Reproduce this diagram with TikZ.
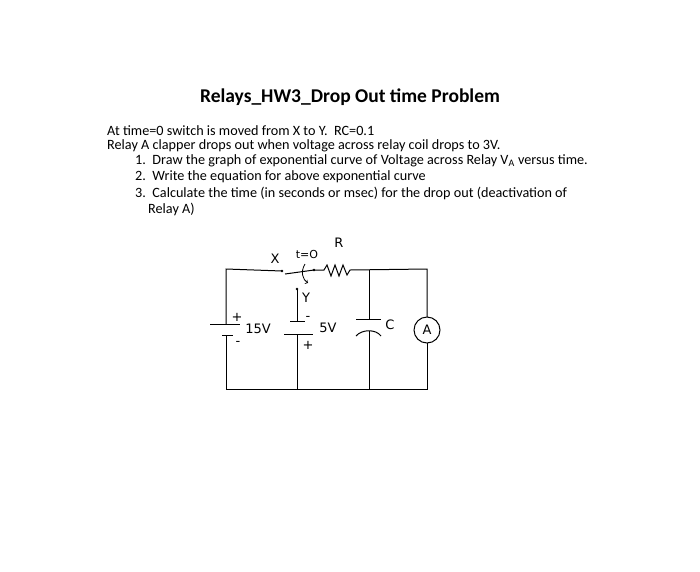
\documentclass[tikz,border=0pt]{standalone}
\usepackage{fontspec}
\setmainfont{Carlito}
\newfontfamily\hand{DejaVu Sans}
\begin{document}
\begin{tikzpicture}[x=1pt,y=-1pt,
  txt/.style={anchor=west,inner sep=0,font=\fontsize{14.2}{16}\selectfont},
  wire/.style={line width=1pt},
  lbl/.style={inner sep=0,font=\hand\fontsize{13}{14}\selectfont}]
\useasboundingbox (0,0) rectangle (700,571);
\fill[white] (0,0) rectangle (700,571);
\node[inner sep=0,font=\bfseries\fontsize{19.5}{22}\selectfont] (title) at (350,97) {Relays\_HW3\_Drop Out time Problem};
\node[txt] (l1) at (107,131) {At time=0 switch is moved from X to Y.\ \ RC=0.1};
\node[txt] (l2) at (107,146) {Relay A clapper drops out when voltage across relay coil drops to 3V.};
\node[txt] (l3) at (135,161) {1.\ \ Draw the graph of exponential curve of Voltage across Relay V\textsubscript{A} versus time.};
\node[txt] (l4) at (135,177) {2.\ \ Write the equation for above exponential curve};
\node[txt] (l5) at (135,193) {3.\ \ Calculate the time (in seconds or msec) for the drop out (deactivation of};
\node[txt] (l6) at (148,209) {Relay A)};
% circuit
\coordinate (tl) at (226,269);
\coordinate (bl) at (226,389);
\coordinate (br) at (427,389);
\coordinate (tr) at (427,269);
\coordinate (xc) at (282,271);
\coordinate (pv) at (314,270);
\coordinate (yc) at (297,289);
% left branch with 15V
\draw[wire] (xc) -- (tl) -- (226,324);
\draw[wire] (210,324) -- (240,324);
\draw[wire] (222,335) -- (233,335);
\draw[wire] (226,335) -- (bl) -- (br) -- (427,343);
\fill (xc) circle (1.3);
% switch
\draw[wire] (285,274) -- (pv);
\fill (pv) circle (1.3);
\draw[line width=0.8pt,->] (305,264) .. controls (300,272) and (303,280) .. (308,283);
% resistor
\draw[wire] (pv) -- (324,270) -- (327,265) -- (331,276) -- (335,265) -- (339,276) -- (343,265) -- (347,275) -- (350,270) -- (tr) -- (427,317);
% Y branch, 5V
\fill (yc) circle (1.3);
\draw[wire] (yc) -- (297,321);
\draw[wire] (290,321) -- (305,321);
\draw[wire] (284,334) -- (313,334);
\draw[wire] (297,334) -- (297,389);
% capacitor
\draw[wire] (369,270) -- (369,319);
\draw[wire] (356,319) -- (381,319);
\draw[wire] (356,336) .. controls (362,329) and (376,329) .. (381,336);
\draw[wire] (369,331) -- (369,389);
% ammeter
\node[draw,circle,line width=1pt,minimum size=26pt,inner sep=0,lbl] (A) at (427,330) {A};
% labels
\node[lbl] (lx) at (275,259) {X};
\node[lbl,font=\hand\fontsize{11}{12}\selectfont] (lt) at (307,254) {t=O};
\node[lbl] (lr) at (339,243) {R};
\node[lbl] (ly) at (306,298) {Y};
\node[lbl] (lp1) at (237,317) {+};
\node[lbl] (lm1) at (238,343) {-};
\node[lbl] (l15) at (258,329) {15V};
\node[lbl] (lm2) at (308,318) {-};
\node[lbl] (lp2) at (308,345) {+};
\node[lbl] (l5v) at (328,328) {5V};
\node[lbl] (lc) at (390,325) {C};
\end{tikzpicture}
\end{document}
